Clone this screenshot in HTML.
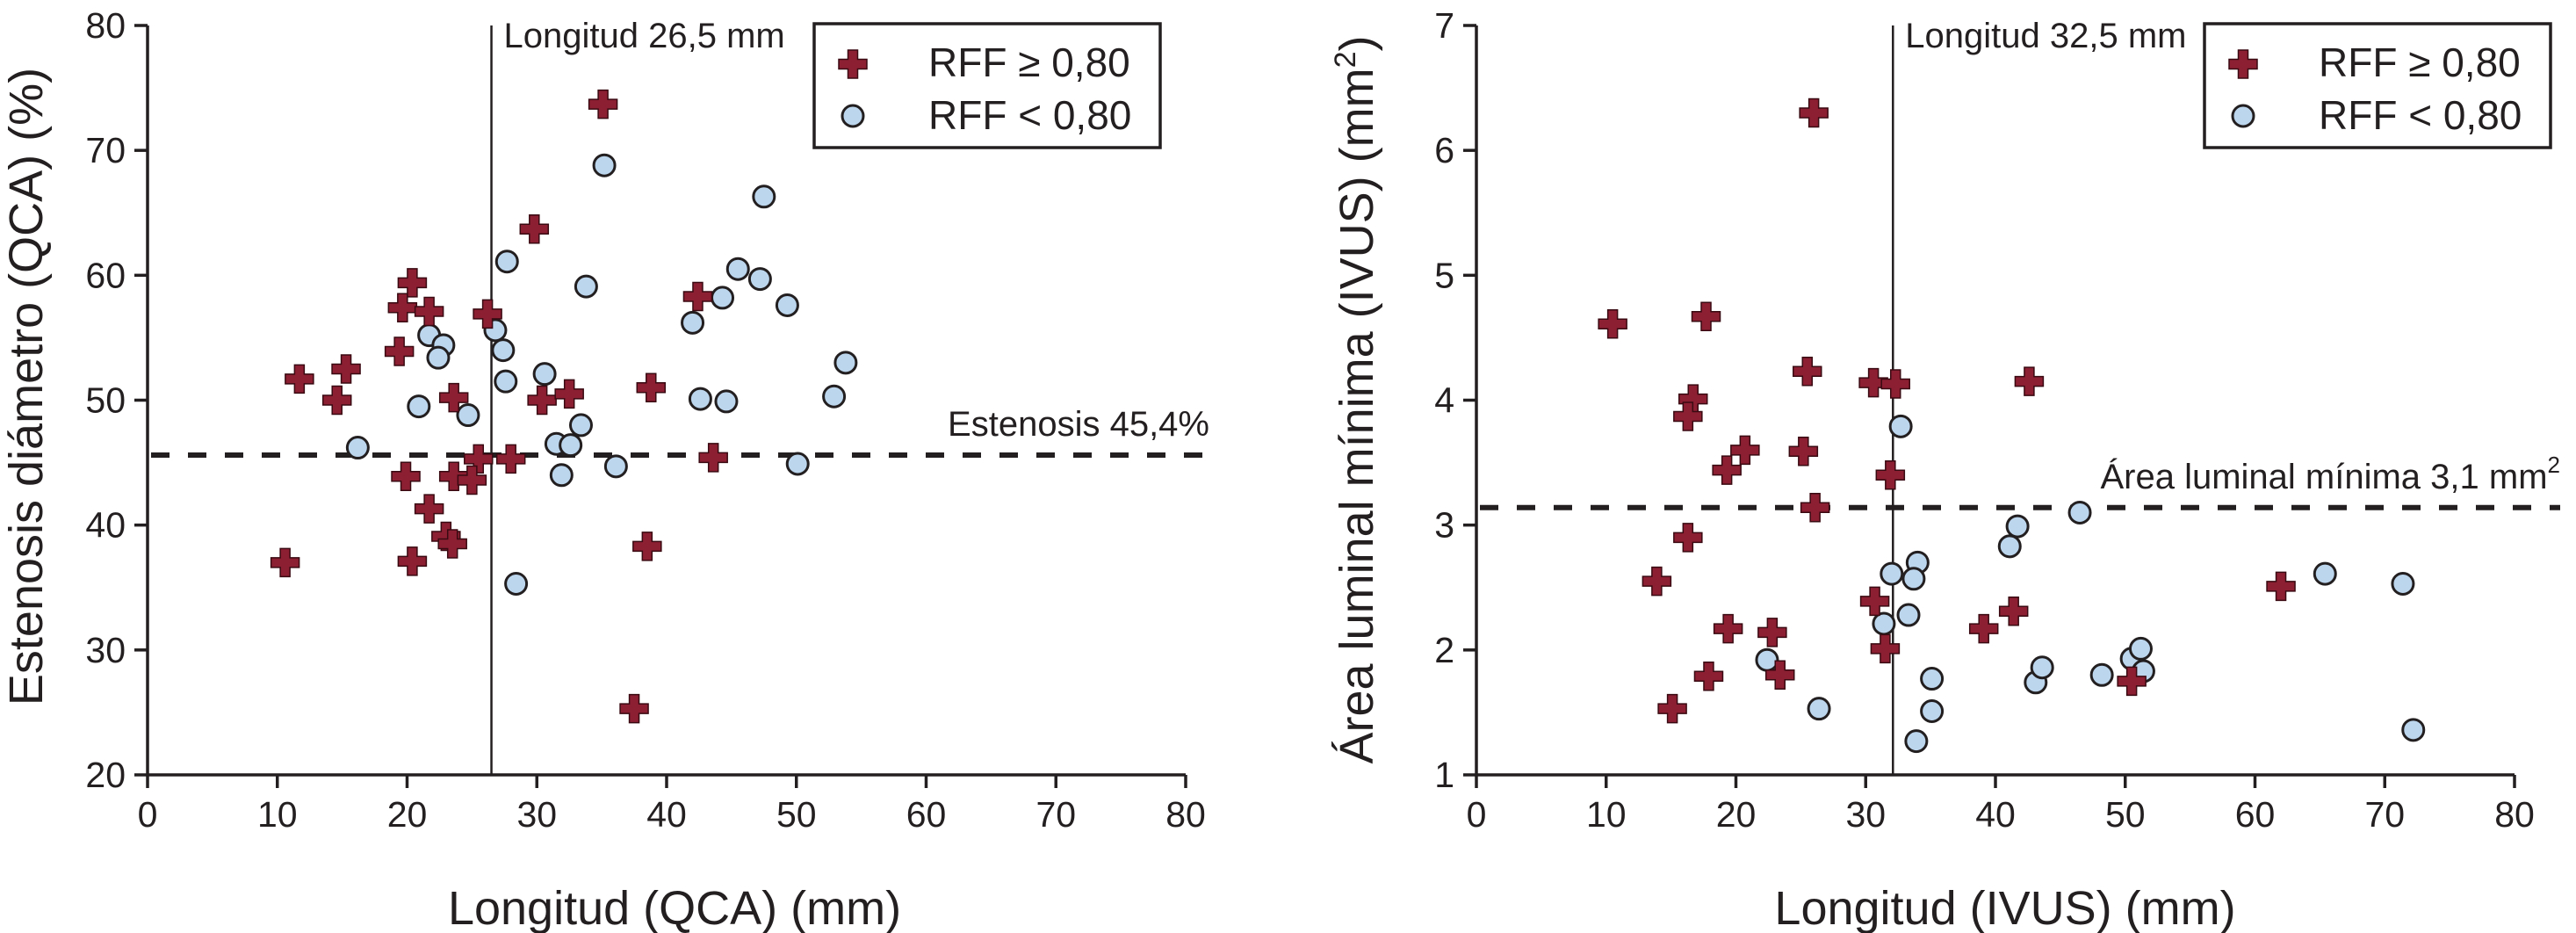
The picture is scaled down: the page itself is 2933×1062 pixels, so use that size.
<!DOCTYPE html>
<html><head><meta charset="utf-8"><style>
html,body{margin:0;padding:0;background:#fff;}
svg{display:block;font-family:"Liberation Sans",Arial,sans-serif;}
</style></head><body>
<svg id="fig" width="2933" height="1062" viewBox="0 0 2933 1062" xmlns="http://www.w3.org/2000/svg">
<rect width="2933" height="1062" fill="#fff"/>
<g id="left"></g>
<g id="right"></g>
</svg>
<script>
// Left chart data
const leftRedX=[35.1,29.8,20.4,19.65,21.7,26.2,19.4,42.4,15.3,11.7,14.6,23.6,30.4,32.5,38.8,28.0,25.5,43.6,19.9,23.6,25.0,21.7,23.0,23.5,20.4,10.6,38.5,37.5];
const leftRedY=[73.7,63.7,59.4,57.4,57.1,56.9,53.9,58.3,52.5,51.7,50.0,50.2,50.0,50.5,51.0,45.3,45.3,45.4,43.9,43.9,43.6,41.3,39.1,38.5,37.1,37.0,38.3,25.3];
const leftBlueX=[35.2,47.5,27.7,33.8,45.5,47.2,44.3,49.3,42.0,26.8,21.7,22.8,22.4,27.4,53.8,30.6,27.6,52.9,42.6,44.6,20.9,24.7,33.4,31.5,32.6,16.2,36.1,50.1,31.9,28.4];
const leftBlueY=[68.8,66.3,61.1,59.1,60.5,59.7,58.2,57.6,56.2,55.6,55.2,54.4,53.4,54.0,53.0,52.1,51.5,50.3,50.1,49.9,49.5,48.8,48.0,46.5,46.4,46.2,44.7,44.9,44.0,35.3];
const leftXTicks=[0,10,20,30,40,50,60,70,80];
const leftYTicks=[20,30,40,50,60,70,80];
const leftVLine=26.5, leftHLine=45.6;
// Right chart data
const rightRedX=[26.0,10.5,17.7,25.5,30.6,32.3,42.6,16.7,16.3,20.7,19.3,25.2,31.9,26.1,16.3,13.9,30.7,41.4,62.0,19.4,22.8,39.1,31.5,17.9,23.4,15.1,50.5];
const rightRedY=[6.30,4.61,4.67,4.23,4.14,4.13,4.15,4.01,3.87,3.60,3.44,3.59,3.40,3.14,2.90,2.55,2.39,2.31,2.51,2.17,2.14,2.17,2.01,1.79,1.80,1.53,1.75];
const rightBlueX=[32.7,46.5,41.7,41.1,34.0,32.0,33.7,33.3,31.4,65.4,71.4,22.4,26.4,35.1,35.1,33.9,43.1,43.6,48.2,50.5,51.2,51.4,72.2];
const rightBlueY=[3.79,3.10,2.99,2.83,2.70,2.61,2.57,2.28,2.21,2.61,2.53,1.92,1.53,1.77,1.51,1.27,1.74,1.86,1.80,1.93,2.01,1.83,1.36];
const rightXTicks=[0,10,20,30,40,50,60,70,80];
const rightYTicks=[1,2,3,4,5,6,7];
const rightVLine=32.1, rightHLine=3.14;

const NS="http://www.w3.org/2000/svg";
const RED="#8c1f32", BLUE="#bcd6ee", INK="#231f20";
function mk(parent,tag,attrs,text){const e=document.createElementNS(NS,tag);for(const k in attrs)e.setAttribute(k,attrs[k]);if(text!==undefined)e.textContent=text;parent.appendChild(e);return e;}
function crossPath(cx,cy){const a=16,b=5.5;return `M${cx-b},${cy-a}H${cx+b}V${cy-b}H${cx+a}V${cy+b}H${cx+b}V${cy+a}H${cx-b}V${cy+b}H${cx-a}V${cy-b}H${cx-b}Z`;}

function chart(g,o){
  const sx=v=>o.x0+(v-o.xmin)/(o.xmax-o.xmin)*(o.x1-o.x0);
  const sy=v=>o.y0-(v-o.ymin)/(o.ymax-o.ymin)*(o.y0-o.y1);
  // axes
  const ax=mk(g,'path',{d:`M${o.x0},${o.y1}V${o.y0}H${o.x1}`,fill:'none',stroke:INK,'stroke-width':3.5});
  
  
  o.xt.forEach(t=>{
    const l=mk(g,'line',{x1:sx(t),x2:sx(t),y1:o.y0,y2:o.y0+15,stroke:INK,'stroke-width':3.5});
    
    
    const tx=mk(g,'text',{x:sx(t),y:o.y0+59,'font-size':41,'text-anchor':'middle',fill:INK},String(t));
    
    
  });
  o.yt.forEach(t=>{
    const l=mk(g,'line',{x1:o.x0-15,x2:o.x0,y1:sy(t),y2:sy(t),stroke:INK,'stroke-width':3.5});
    
    
    const tx=mk(g,'text',{x:o.x0-25,y:sy(t)+14,'font-size':41,'text-anchor':'end',fill:INK},String(t));
    
    
  });
  // reference lines
  const vl=mk(g,'line',{x1:sx(o.vl),x2:sx(o.vl),y1:o.y1,y2:o.y0,stroke:INK,'stroke-width':2.5});
  
  
  const hl=mk(g,'line',{x1:o.x0+4,x2:o.hlEnd,y1:sy(o.hl),y2:sy(o.hl),stroke:INK,'stroke-width':6,'stroke-dasharray':'21 21'});
  
  
  // points
  o.bx.forEach((v,i)=>{
    const c=mk(g,'circle',{cx:sx(v),cy:sy(o.by[i]),r:12,fill:BLUE,stroke:INK,'stroke-width':3});
    
    
  });
  o.rx.forEach((v,i)=>{
    const p=mk(g,'path',{d:crossPath(sx(v),sy(o.ry[i])),fill:RED,stroke:'#3a0a12','stroke-width':1.5});
    
    
  });
  // labels
  const vt=mk(g,'text',{x:sx(o.vl)+14,y:o.y1+25,'font-size':40,fill:INK},o.vlabel);
  
  
  const ht=mk(g,'text',{x:o.hlEnd,y:sy(o.hl)-22,'font-size':40,'text-anchor':'end',fill:INK});
  ht.innerHTML=o.hlabel;
  
  
  // legend
  const lg=mk(g,'g',{});
  
  
  mk(lg,'rect',{x:o.lgx,y:27,width:394,height:141,fill:'#fff',stroke:INK,'stroke-width':3.5});
  const lc=mk(lg,'path',{d:crossPath(o.lgx+44,73),fill:RED,stroke:'#3a0a12','stroke-width':1.5});
  
  
  const lt1=mk(lg,'text',{x:o.lgx+130,y:87,'font-size':46,fill:INK},'RFF ≥ 0,80');
  
  
  const lcc=mk(lg,'circle',{cx:o.lgx+44,cy:132,r:12,fill:BLUE,stroke:INK,'stroke-width':3});
  
  
  const lt2=mk(lg,'text',{x:o.lgx+130,y:147,'font-size':46,fill:INK},'RFF < 0,80');
  
  
  // titles
  const xt=mk(g,'text',{x:o.xtx,y:1052,'font-size':54,'text-anchor':'middle',fill:INK},o.xtitle);
  
  
  const yt=mk(g,'text',{x:0,y:0,'font-size':54,'text-anchor':'middle',fill:INK,transform:`translate(${o.ytx},${o.yty}) rotate(-90)`});
  yt.innerHTML=o.ytitle;
  
  
}
chart(document.getElementById('left'),{x0:168,x1:1350,y0:882,y1:29,xmin:0,xmax:80,ymin:20,ymax:80,xt:leftXTicks,yt:leftYTicks,
  vl:leftVLine,hl:leftHLine,hlEnd:1377,rx:leftRedX,ry:leftRedY,bx:leftBlueX,by:leftBlueY,lgx:927,
  vlabel:'Longitud 26,5 mm',hlabel:'Estenosis 45,4%',xtitle:'Longitud (QCA) (mm)',xtx:768,
  ytitle:'Estenosis diámetro (QCA) (%)',ytx:48,yty:440});
chart(document.getElementById('right'),{x0:1681,x1:2863,y0:882,y1:29,xmin:0,xmax:80,ymin:1,ymax:7,xt:rightXTicks,yt:rightYTicks,
  vl:rightVLine,hl:rightHLine,hlEnd:2915,rx:rightRedX,ry:rightRedY,bx:rightBlueX,by:rightBlueY,lgx:2510,
  vlabel:'Longitud 32,5 mm',hlabel:'Área luminal mínima 3,1 mm<tspan font-size="26" dy="-18">2</tspan>',xtitle:'Longitud (IVUS) (mm)',xtx:2283,
  ytitle:'Área luminal mínima (IVUS) (mm<tspan font-size="34" dy="-20">2</tspan><tspan dy="20">)</tspan>',ytx:1563,yty:455});
</script>
</body></html>
